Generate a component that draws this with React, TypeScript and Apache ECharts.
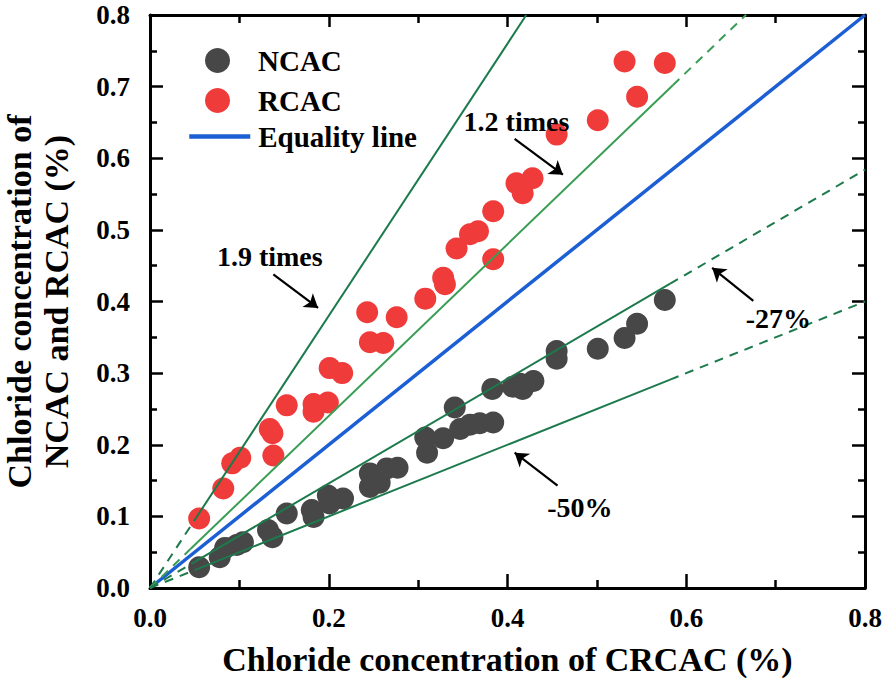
import React, { useEffect, useRef } from 'react';
import * as echarts from 'echarts';

// NCAC points: [CRCAC, NCAC]
const ncacData: [number, number][] = [
  [0.055, 0.029], [0.078, 0.043], [0.084, 0.056], [0.097, 0.060], [0.104, 0.064],
  [0.132, 0.081], [0.137, 0.071], [0.153, 0.104], [0.181, 0.109], [0.183, 0.099],
  [0.199, 0.129], [0.216, 0.125], [0.201, 0.118], [0.246, 0.160], [0.246, 0.141],
  [0.257, 0.147], [0.265, 0.167], [0.277, 0.168], [0.308, 0.210], [0.310, 0.189],
  [0.328, 0.209], [0.341, 0.252], [0.347, 0.222], [0.358, 0.228], [0.369, 0.230],
  [0.384, 0.231], [0.383, 0.278], [0.406, 0.281], [0.414, 0.285], [0.417, 0.278],
  [0.429, 0.289], [0.455, 0.331], [0.455, 0.320], [0.501, 0.334], [0.531, 0.349],
  [0.545, 0.369], [0.576, 0.402],
];

// RCAC points: [CRCAC, RCAC]
const rcacData: [number, number][] = [
  [0.055, 0.097], [0.082, 0.139], [0.092, 0.174], [0.101, 0.182], [0.134, 0.222],
  [0.137, 0.216], [0.138, 0.185], [0.153, 0.255], [0.183, 0.257], [0.183, 0.246],
  [0.199, 0.259], [0.201, 0.307], [0.215, 0.300], [0.246, 0.343], [0.261, 0.342],
  [0.243, 0.385], [0.276, 0.378], [0.308, 0.404], [0.328, 0.433], [0.330, 0.424],
  [0.343, 0.474], [0.358, 0.494], [0.367, 0.498], [0.384, 0.526], [0.384, 0.459],
  [0.410, 0.565], [0.428, 0.572], [0.417, 0.551], [0.455, 0.633], [0.501, 0.653],
  [0.545, 0.686], [0.531, 0.735], [0.576, 0.733],
];

const xTickValues = [0.0, 0.2, 0.4, 0.6, 0.8];
const yTickValues = [0.0, 0.1, 0.2, 0.3, 0.4, 0.5, 0.6, 0.7, 0.8];

// reference lines: slope, solid span, dashed spans
const refSlopes = [1.9, 1.2, 0.73, 0.5];
const refSolid: [number, number][] = [[0.052, 0.421], [0.045, 0.585], [0.05, 0.582], [0.05, 0.582]];
const refDashed: [number, number][][] = [
  [[0, 0.052]],
  [[0, 0.045], [0.585, 0.667]],
  [[0, 0.05], [0.582, 0.8]],
  [[0, 0.05], [0.582, 0.8]],
];
const refColors = ['#1d7a4c', '#3a9d55', '#1d7a4c', '#1d7a4c'];

const annotTexts = ['1.9 times', '1.2 times', '-27%', '-50%'];
const annotPos: [number, number][] = [[0.134, 0.463], [0.41, 0.651], [0.703, 0.376], [0.481, 0.113]];
const arrowFrom: [number, number][] = [[0.138, 0.438], [0.408, 0.627], [0.675, 0.401], [0.456, 0.143]];
const arrowTo: [number, number][] = [[0.188, 0.391], [0.462, 0.577], [0.629, 0.447], [0.408, 0.189]];

const legendNames = ['NCAC', 'RCAC', 'Equality line'];
const legendTops = [41, 81, 117];

const FONT = "'Times New Roman', 'Liberation Serif', serif";

export default function App() {
  const ref = useRef<HTMLDivElement>(null);
  useEffect(() => {
    if (!ref.current) return;
    const chart = echarts.init(ref.current, null, { renderer: 'svg' });

    const refSeries: any[] = [];
    refSlopes.forEach((k, i) => {
      const s = refSolid[i];
      refSeries.push({
        type: 'line', name: 'ref' + i, symbol: 'none', silent: true, z: 5,
        data: [[s[0], k * s[0]], [s[1], k * s[1]]],
        lineStyle: { color: refColors[i], width: 2 },
      });
      refDashed[i].forEach((d, j) => {
        refSeries.push({
          type: 'line', name: 'refd' + i + '_' + j, symbol: 'none', silent: true, z: 5,
          data: [[d[0], k * d[0]], [d[1], k * d[1]]],
          lineStyle: { color: refColors[i], width: 2, type: [9, 7] },
        });
      });
    });

    const axisCommon = {
      type: 'value', min: 0, max: 0.8,
      axisLine: { show: true, onZero: false, lineStyle: { color: '#000', width: 3 } },
      splitLine: { show: false },
    };

    const legendTextStyle = (pad: number) => ({
      fontFamily: FONT, fontWeight: 'bold', fontSize: 29, color: '#000', padding: [0, 0, 0, pad],
    });

    chart.setOption({
      animation: false,
      backgroundColor: '#fff',
      grid: { left: 150, right: 21, top: 15, bottom: 92, containLabel: false, outerBoundsMode: 'none' },
      legend: legendNames.map((n, i) =>
        i < 2
          ? {
              orient: 'vertical', left: 200, top: legendTops[i], itemWidth: 25, itemHeight: 25,
              data: [n], textStyle: legendTextStyle(23),
            }
          : {
              orient: 'vertical', left: 182, top: legendTops[i], itemWidth: 61, itemHeight: 25,
              data: [{ name: n, itemStyle: { opacity: 0 }, lineStyle: { width: 4.5 } }],
              textStyle: legendTextStyle(3),
            }
      ),
      xAxis: [
        {
          ...axisCommon, position: 'bottom', interval: 0.2,
          axisTick: { show: true, inside: true, length: 14, lineStyle: { width: 2.5, color: '#000' } },
          minorTick: { show: true, splitNumber: 2, length: 8, lineStyle: { width: 2.5, color: '#000' } },
          axisLabel: {
            margin: 16, fontFamily: FONT, fontWeight: 'bold', fontSize: 27, color: '#000',
            formatter: (v: number) => (xTickValues.some((t) => Math.abs(t - v) < 1e-6) ? v.toFixed(1) : ''),
          },
          name: 'Chloride concentration of CRCAC (%)', nameLocation: 'middle', nameGap: 54,
          nameTextStyle: { fontFamily: FONT, fontWeight: 'bold', fontSize: 34, color: '#000' },
        },
        {
          ...axisCommon, position: 'top', interval: 0.2,
          axisTick: { show: true, inside: true, length: 12, lineStyle: { width: 2.5, color: '#000' } },
          minorTick: { show: true, splitNumber: 2, length: 8, lineStyle: { width: 2.5, color: '#000' } },
          axisLabel: { show: false },
        },
      ],
      yAxis: [
        {
          ...axisCommon, position: 'left', interval: 0.1,
          axisTick: { show: true, inside: true, length: 13, lineStyle: { width: 2.5, color: '#000' } },
          minorTick: { show: true, splitNumber: 2, length: 7, lineStyle: { width: 2.5, color: '#000' } },
          axisLabel: {
            margin: 20, fontFamily: FONT, fontWeight: 'bold', fontSize: 27, color: '#000', lineHeight: 24,
            formatter: (v: number) => (yTickValues.some((t) => Math.abs(t - v) < 1e-6) ? v.toFixed(1) : ''),
          },
          name: 'Chloride concentration of\nNCAC and RCAC (%)', nameLocation: 'middle', nameGap: 75,
          nameTextStyle: { fontFamily: FONT, fontWeight: 'bold', fontSize: 34, color: '#000', lineHeight: 37 },
        },
        {
          ...axisCommon, position: 'right', interval: 0.1,
          axisTick: { show: true, inside: true, length: 13, lineStyle: { width: 2.5, color: '#000' } },
          minorTick: { show: true, splitNumber: 2, length: 7, lineStyle: { width: 2.5, color: '#000' } },
          axisLabel: { show: false },
        },
      ],
      series: [
        {
          type: 'scatter', name: 'NCAC', data: ncacData, symbol: 'circle', symbolSize: 22, z: 2,
          itemStyle: { color: '#474747', opacity: 1 },
        },
        {
          type: 'scatter', name: 'RCAC', data: rcacData, symbol: 'circle', symbolSize: 22, z: 2,
          itemStyle: { color: '#ef3b3a', opacity: 1 },
        },
        {
          type: 'line', name: 'Equality line', symbol: 'none', z: 4,
          data: [[0, 0], [0.8, 0.8]],
          lineStyle: { color: '#1c5fd4', width: 3.5 },
          itemStyle: { color: '#1c5fd4' },
        },
        ...refSeries,
        {
          type: 'lines', coordinateSystem: 'cartesian2d', silent: true, z: 6,
          symbol: ['none', 'arrow'], symbolSize: [0, 13],
          lineStyle: { color: '#000', width: 2.2, opacity: 1 },
          data: arrowFrom.map((f, i) => ({ coords: [f, arrowTo[i]] })),
        },
        {
          type: 'scatter', name: 'annot', silent: true, symbolSize: 0, z: 7,
          itemStyle: { opacity: 1 },
          data: annotPos.map((p, i) => ({ value: p, name: annotTexts[i] })),
          label: {
            show: true, position: 'inside', formatter: (p: any) => p.name,
            fontFamily: FONT, fontWeight: 'bold', fontSize: 28, color: '#000', opacity: 1,
          },
        },
      ],
    });
    return () => chart.dispose();
  }, []);
  return <div ref={ref} style={{ position: 'absolute', left: 0, top: 0, width: 886, height: 680 }} />;
}
